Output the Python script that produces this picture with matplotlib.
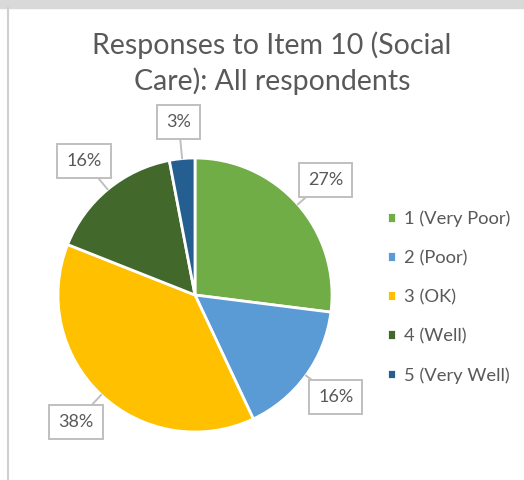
import numpy as np
import matplotlib
matplotlib.use("Agg")
import matplotlib.pyplot as plt
from matplotlib.patches import Rectangle
from matplotlib.lines import Line2D

plt.rcParams['font.family'] = ['Lato', 'DejaVu Sans']

categories = ['1 (Very Poor)', '2 (Poor)', '3 (OK)', '4 (Well)', '5 (Very Well)']
shares = [27, 16, 38, 16, 3]
colours = ['#70AD47', '#5B9BD5', '#FFC000', '#43682B', '#255E91']
title = "Responses to Item 10 (Social\nCare): All respondents"

W, H = 524, 480
fig = plt.figure(figsize=(W / 100, H / 100), dpi=100)
ax = fig.add_axes([0, 0, 1, 1])

# pie in pixel units (y measured from the bottom)
cx, cy, rad = 195, 185, 137
wedges, _ = ax.pie(shares, colors=colours, startangle=90, counterclock=False,
                   center=(cx, cy), radius=rad, frame=True,
                   wedgeprops=dict(edgecolor='white', linewidth=2))
ax.axis('off')
ax.set_xlim(0, W)
ax.set_ylim(0, H)
ax.set_aspect('equal')

for w, v in zip(wedges, shares):
    mid = np.deg2rad((w.theta1 + w.theta2) / 2)
    edge = (cx + rad * np.cos(mid), cy + rad * np.sin(mid))
    lab = (cx + rad * 1.27 * np.cos(mid), cy + rad * 1.27 * np.sin(mid))
    ax.annotate(f"{v}%", xy=edge, xytext=lab, ha='center', va='center',
                fontsize=13, color='#595959',
                bbox=dict(boxstyle='square,pad=0.5', fc='white', ec='#BFBFBF', lw=1.4),
                arrowprops=dict(arrowstyle='-', color='#BFBFBF', lw=1.4,
                                shrinkA=0, shrinkB=0))

fig.text(272 / W, 1 - 63 / H, title, ha='center', va='center', fontsize=20.5,
         color='#595959', linespacing=1.35)

fig.legend(wedges, categories, loc='center left', bbox_to_anchor=(370 / W, 1 - 297 / H),
           frameon=False, fontsize=13.2, labelcolor='#595959', handlelength=0.5,
           handleheight=0.5, handletextpad=0.45, labelspacing=1.25)

# outer border of the chart object
fig.patches.append(Rectangle((0, 1 - 8 / H), 1, 8 / H, transform=fig.transFigure,
                             color='#D9D9D9', zorder=0))
fig.lines.append(Line2D([8 / W, 8 / W], [0, 1 - 8 / H], transform=fig.transFigure,
                        color='#D0D0D0', lw=1.5))

fig.savefig('out.png', dpi=100)
